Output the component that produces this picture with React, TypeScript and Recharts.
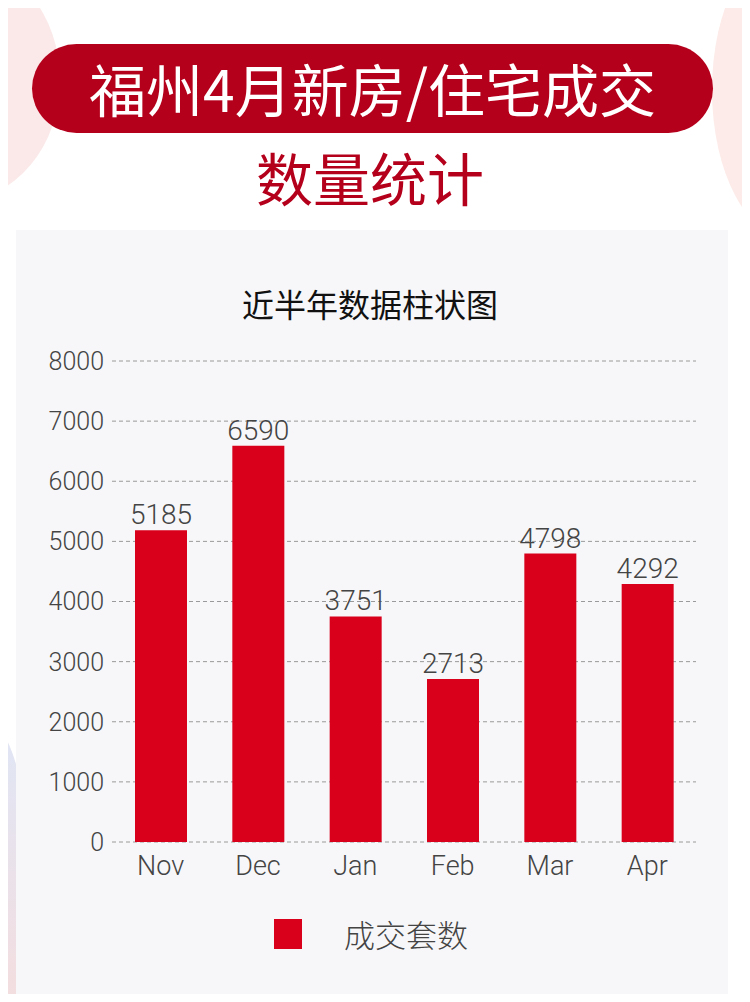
import { BarChart, Bar, XAxis, YAxis, CartesianGrid, LabelList, Legend } from "recharts";

const months = ["Nov", "Dec", "Jan", "Feb", "Mar", "Apr"];
const deals = [5185, 6590, 3751, 2713, 4798, 4292];
const yTicks = [0, 1000, 2000, 3000, 4000, 5000, 6000, 7000, 8000];
const seriesName = "成交套数";

const RED = "#d9001b";
const DARK_RED = "#b5001c";
const TEXT = "#444";
const FONT = "Roboto, 'Noto Sans CJK SC', sans-serif";
const CJK = "'Noto Sans CJK SC', sans-serif";

const data = months.map((m, i) => ({ month: m, value: deals[i] }));

function LegendBox() {
  return (
    <div style={{ display: "flex", alignItems: "center", justifyContent: "center", height: 34 }}>
      <span style={{ display: "inline-block", width: 28, height: 30, background: RED, marginRight: 42, marginLeft: 30 }} />
      <span style={{ fontFamily: CJK, fontSize: 31, fontWeight: 300, color: TEXT, lineHeight: "34px" }}>{seriesName}</span>
    </div>
  );
}

export default function App() {
  return (
    <div style={{ position: "relative", width: 750, height: 1002, margin: -8, overflow: "hidden", background: "#fff" }}>
      {/* soft background blobs */}
      <div style={{ position: "absolute", left: -140, top: -40, width: 200, height: 240, borderRadius: "50%", background: "#fbe9e9" }} />
      <div style={{ position: "absolute", left: 712, top: -60, width: 160, height: 300, borderRadius: "50%", background: "#fcebe8" }} />
      <div style={{ position: "absolute", left: -60, top: 720, width: 90, height: 320, borderRadius: "50%", background: "linear-gradient(#dfe6f6, #f6dcdc)" }} />

      {/* banner */}
      <div
        style={{
          position: "absolute", left: 32, top: 44, width: 681, height: 89, borderRadius: 45, background: DARK_RED,
          color: "#fff", fontFamily: CJK, fontSize: 57, fontWeight: 400, lineHeight: "86px", textAlign: "center",
        }}
      >
        福州4月新房/住宅成交
      </div>
      <div
        style={{
          position: "absolute", left: 0, top: 144, width: 740, textAlign: "center", color: DARK_RED,
          fontFamily: CJK, fontSize: 57, lineHeight: "64px",
        }}
      >
        数量统计
      </div>

      {/* panel */}
      <div style={{ position: "absolute", left: 16, top: 230, width: 712, height: 772, background: "#f7f7f9" }} />
      <div
        style={{
          position: "absolute", left: 16, top: 284, width: 708, textAlign: "center", color: "#111",
          fontFamily: CJK, fontSize: 32, fontWeight: 400, lineHeight: "38px",
        }}
      >
        近半年数据柱状图
      </div>

      <div style={{ position: "absolute", left: 16, top: 230 }}>
        <BarChart width={714} height={772} data={data} margin={{ top: 131, right: 34, bottom: 51, left: 0 }}>
          <CartesianGrid vertical={false} stroke="#9a9a9a" strokeDasharray="4 3" />
          <XAxis
            dataKey="month"
            axisLine={false}
            tickLine={false}
            height={75}
            tickMargin={8}
            tick={{ fill: TEXT, fontSize: 27, fontFamily: FONT, fontWeight: 300 }}
          />
          <YAxis
            domain={[0, 8000]}
            ticks={yTicks}
            axisLine={false}
            tickLine={false}
            width={96}
            tick={{ fill: TEXT, fontSize: 25, fontFamily: FONT, fontWeight: 300 }}
          />
          <Legend verticalAlign="bottom" content={<LegendBox />} />
          <Bar dataKey="value" name={seriesName} fill={RED} barSize={52} isAnimationActive={false}>
            <LabelList dataKey="value" position="top" offset={6} fill={TEXT} fontSize={28} fontFamily={FONT} fontWeight={300} />
          </Bar>
        </BarChart>
      </div>
    </div>
  );
}
